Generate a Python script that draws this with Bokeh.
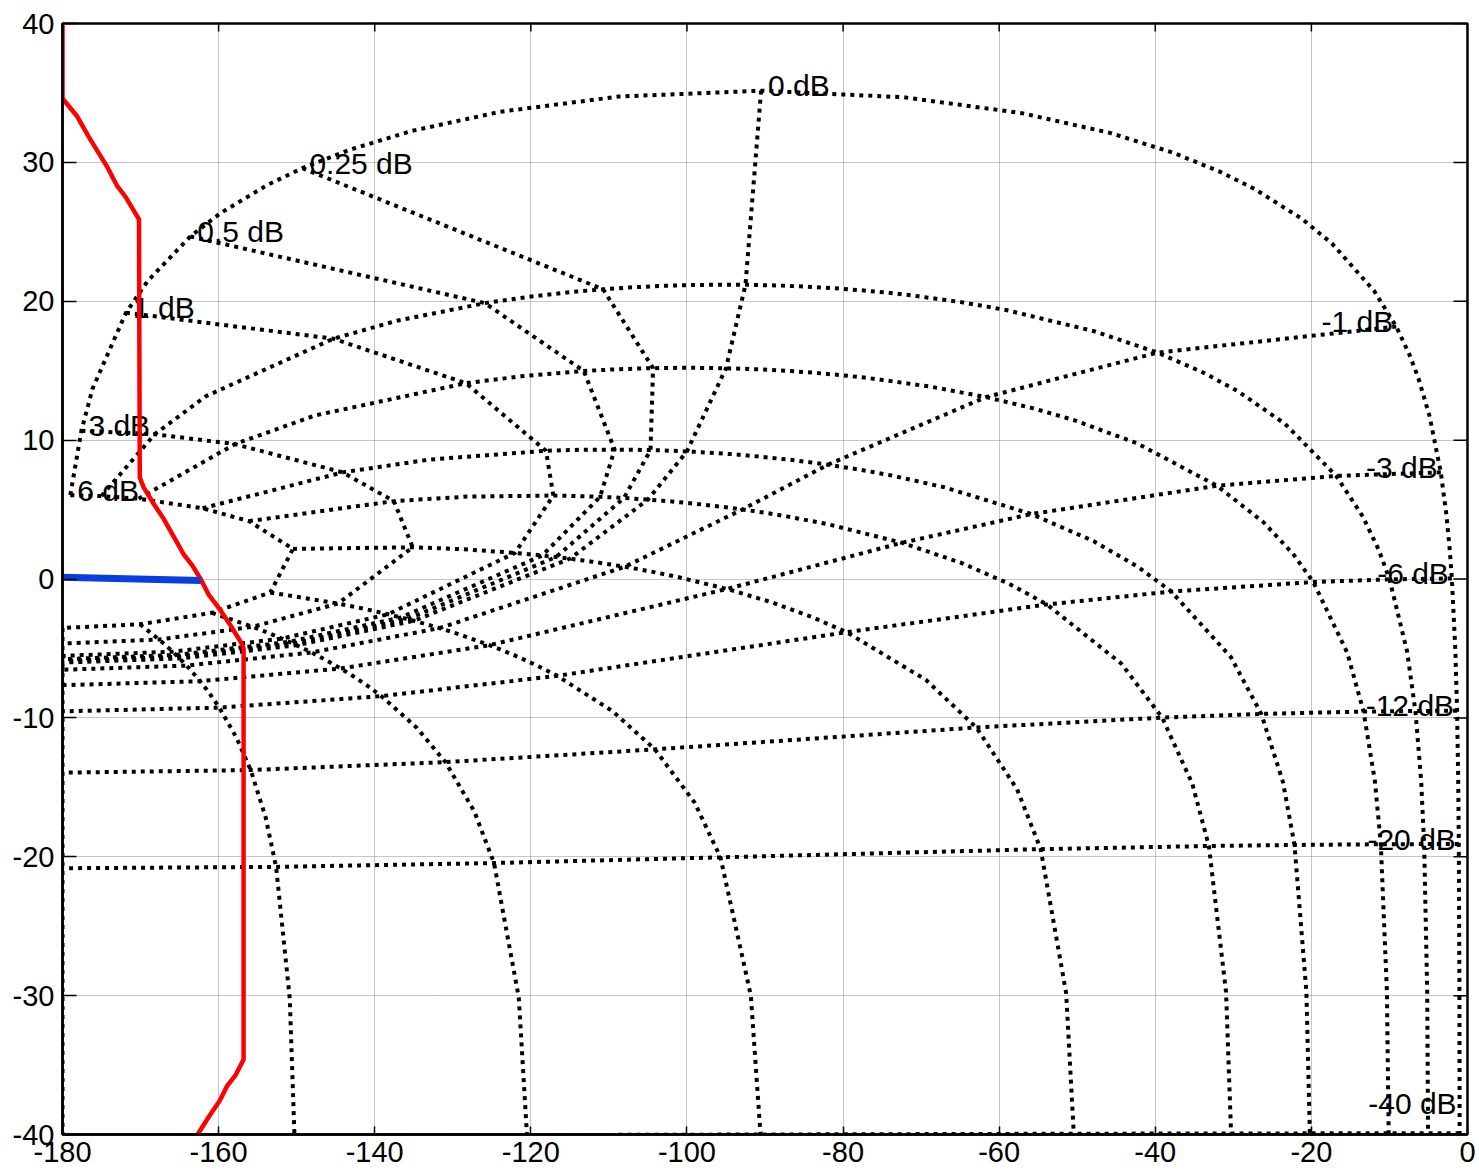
import numpy as np
from bokeh.plotting import figure
from bokeh.models import Range1d, FixedTicker, CustomJSTickFormatter
from bokeh.core.properties import value
from bokeh.embed import file_html
from bokeh.resources import INLINE

# ---------------- data ----------------
X_TICKS = [-180, -160, -140, -120, -100, -80, -60, -40, -20, 0]
Y_TICKS = [-40, -30, -20, -10, 0, 10, 20, 30, 40]

# Nichols grid: closed-loop phase contours (deg) and closed-loop gain samples (dB)
CL_PHASES_DEG = [-1, -5, -10, -20, -30, -50, -90, -120, -150, -180]
CL_GAINS_DB = [6, 3, 2, 1, 0.75, 0.5, 0.4, 0.3, 0.25, 0.2, 0.15, 0.1, 0.05, 0,
               -0.05, -0.1, -0.15, -0.2, -0.25, -0.3, -0.4, -0.5, -0.75, -1,
               -1.25, -1.5, -2, -3, -4, -5, -6, -9, -12, -16, -20, -30, -40]
# closed-loop gain contours that are drawn and labelled
M_LEVELS_DB = [6, 3, 1, 0.5, 0.25, 0, -1, -3, -6, -12, -20, -40]
M_LABELS = ["6 dB", "3 dB", "1 dB", "0.5 dB", "0.25 dB", "0 dB",
            "-1 dB", "-3 dB", "-6 dB", "-12 dB", "-20 dB", "-40 dB"]

# red open-loop curve (phase deg, gain dB)
RED_PHASE = [-180.0, -180.0, -178.1, -176.6, -175.4, -174.3, -173.0, -171.9, -170.2,
             -170.1, -169.6, -168.3, -167.0, -165.7, -164.5, -163.4, -162.3, -161.3,
             -159.7, -158.4, -157.1, -156.8, -156.8, -157.8, -158.9, -159.9, -161.0, -162.7]
RED_GAIN = [40.0, 34.6, 33.3, 31.8, 30.7, 29.7, 28.3, 27.5, 25.9,
            7.3, 6.6, 5.4, 4.3, 3.0, 1.8, 1.0, 0.0, -1.1,
            -2.3, -3.4, -4.6, -5.0, -34.6, -35.7, -36.5, -37.6, -38.5, -40.0]

# blue segment
BLUE_PHASE = [-180.0, -162.3]
BLUE_GAIN = [0.12, -0.1]

XMIN, XMAX, YMIN, YMAX = -180, 0, -40, 40


def to_open_loop(g_db, psi_deg):
    g = np.asarray(g_db, dtype=float)
    psi = np.asarray(psi_deg, dtype=float)
    T = 10 ** (g / 20.0) * np.exp(1j * np.radians(psi))
    L = T / (1 - T)
    mag = 20 * np.log10(np.abs(L))
    ph = psi - np.degrees(np.angle(1 - T))
    return ph, mag


# constant closed-loop gain lines
m_xs, m_ys = [], []
lab_x, lab_y, lab_t, lab_align, lab_dx = [], [], [], [], []
for g, lab in zip(M_LEVELS_DB, M_LABELS):
    ph, mag = to_open_loop([g] * len(CL_PHASES_DEG), CL_PHASES_DEG)
    m_xs.append(list(ph))
    m_ys.append(list(mag))
    lab_x.append(ph[0])
    lab_y.append(max(mag[0], YMIN + 1.85))
    lab_t.append(lab)
    if g >= 0:
        lab_align.append("left")
        lab_dx.append(7)
    else:
        lab_align.append("right")
        lab_dx.append(-3)

# constant closed-loop phase lines
n_xs, n_ys = [], []
for psi in CL_PHASES_DEG:
    ph, mag = to_open_loop(CL_GAINS_DB, [psi] * len(CL_GAINS_DB))
    n_xs.append(list(ph))
    n_ys.append(list(mag))

# ---------------- figure ----------------
FONT = "Liberation Sans"
p = figure(width=1477, height=1170,
           x_range=Range1d(XMIN, XMAX), y_range=Range1d(YMIN, YMAX),
           output_backend="svg", toolbar_location=None,
           min_border_left=62, min_border_right=10,
           min_border_top=23, min_border_bottom=36)
p.background_fill_color = "white"
p.border_fill_color = "white"
p.outline_line_color = "black"
p.outline_line_width = 2.5

fmt = CustomJSTickFormatter(code="return tick.toString();")
for ax in (p.xaxis[0], p.yaxis[0]):
    ax.axis_line_color = "black"
    ax.axis_line_width = 2.5
    ax.major_tick_out = 0
    ax.minor_tick_line_color = None
    ax.major_tick_line_color = "black"
    ax.major_tick_line_width = 1.5
    ax.major_label_text_font = FONT
    ax.major_label_text_font_size = "29px"
    ax.major_label_text_color = "black"
    ax.formatter = fmt

p.xaxis[0].ticker = FixedTicker(ticks=X_TICKS)
p.yaxis[0].ticker = FixedTicker(ticks=Y_TICKS)
p.xaxis[0].major_tick_in = 8
p.yaxis[0].major_tick_in = 14
p.xaxis[0].major_label_standoff = 7
p.yaxis[0].major_label_standoff = 8

# inward ticks on the top and right edges of the box
p.ray(x=X_TICKS, y=[YMAX] * len(X_TICKS), length=8, length_units="screen",
      angle=-np.pi / 2, line_color="black", line_width=1.5)
p.ray(x=[XMAX] * len(Y_TICKS), y=Y_TICKS, length=14, length_units="screen",
      angle=np.pi, line_color="black", line_width=1.5)

p.xgrid.ticker = FixedTicker(ticks=X_TICKS)
p.ygrid.ticker = FixedTicker(ticks=Y_TICKS)
for gr in (p.xgrid[0], p.ygrid[0]):
    gr.grid_line_color = "#8c8c8c"
    gr.grid_line_width = 1
    gr.grid_line_dash = "1 1"

# Nichols grid lines (dotted)
p.multi_line(xs=m_xs, ys=m_ys, line_color="black", line_width=4, line_dash="4 5")
p.multi_line(xs=n_xs, ys=n_ys, line_color="black", line_width=4, line_dash="4 5")

# labels
for x, y, t, a, dx in zip(lab_x, lab_y, lab_t, lab_align, lab_dx):
    p.text(x=[x], y=[y], text=[t], text_align=a, text_baseline="middle",
           x_offset=dx, y_offset=-5, text_font=value(FONT),
           text_font_size="30px", text_color="black")

# data lines
p.line(RED_PHASE, RED_GAIN, line_color="#ff0000", line_width=4.5)
p.line(BLUE_PHASE, BLUE_GAIN, line_color="#0a3ee0", line_width=7)

open("out.html", "w").write(file_html(p, INLINE))
